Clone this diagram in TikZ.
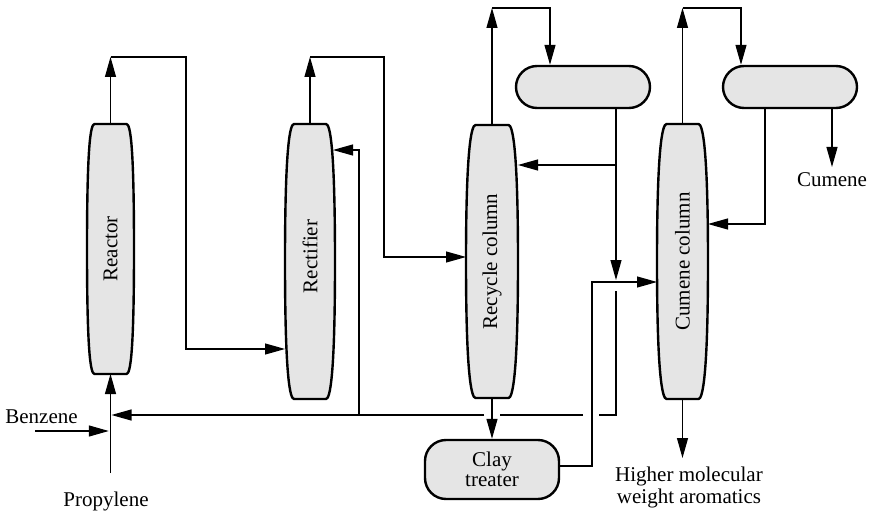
\documentclass[tikz,border=0pt]{standalone}
\usepackage{fontspec}
\setmainfont{Liberation Serif}
\usetikzlibrary{arrows.meta,calc}
\definecolor{vesselfill}{gray}{0.9}
\tikzset{
  flow/.style={line width=1.2pt, draw=black},
  tip/.style={-{Triangle[length=20pt,width=11pt]}},
  vesseloutline/.style={line width=2.4pt, draw=black, fill=vesselfill, line join=round},
  drum/.style={vesseloutline, rounded corners=21pt, minimum width=134pt,
    minimum height=42pt, inner sep=0pt, align=center},
  lbl/.style={inner sep=0pt, outer sep=0pt}
}
% Tower: name, centre x, top y, bottom y, half width at mid-height,
% half width at the heads, label
\newcommand\tower[7]{%
  \pgfmathsetmacro\tmid{(#3+#4)/2}%
  \path[vesseloutline] (#2-#6+3,#3) -- (#2+#6-3,#3)
    .. controls (#2+#6+1,#3) and (#2+#5,#3+22) .. (#2+#5,\tmid)
    .. controls (#2+#5,#4-22) and (#2+#6+1,#4) .. (#2+#6-3,#4)
    -- (#2-#6+3,#4)
    .. controls (#2-#6-1,#4) and (#2-#5,#4-22) .. (#2-#5,\tmid)
    .. controls (#2-#5,#3+22) and (#2-#6-1,#3) .. cycle;
  \node[lbl, minimum width={2*#5}, minimum height={#4-#3}] (#1) at (#2,\tmid) {\rotatebox{90}{#7}};
}
\begin{document}
\begin{tikzpicture}[x=1pt,y=-1pt,font=\fontsize{21}{20}\selectfont]
\useasboundingbox (0,0) rectangle (879,516);

% columns
\tower{reactor}{110.5}{124}{374}{23.5}{19}{Reactor}
\tower{rectifier}{310}{124}{399}{25}{19}{\hspace{10pt}Rectifier}
\tower{recycle}{492}{125}{398}{26}{19.5}{Recycle column}
\tower{cumene}{682.5}{124}{399}{25.5}{19}{Cumene column}

% drums and clay treater
\node[drum] (drumA) at (583,87) {};
\node[drum] (drumB) at (790,87) {};
\node[drum, minimum height=59pt] (clay) at (492,469.5) {Clay\\treater};

% reactor overhead to rectifier
\coordinate (reacTop) at (110.5,57);
\coordinate (reacBend) at (186,57);
\coordinate (rectFeed) at (186,349);
\draw[flow,tip] (reactor.north) -- (reacTop);
\draw[flow,tip] (reacTop) -- (reacBend) -- (rectFeed) -- (rectFeed -| rectifier.west);

% rectifier overhead to recycle column
\coordinate (rectTop) at (310,57);
\coordinate (rectBend) at (384,57);
\coordinate (recyFeed) at (384,257);
\draw[flow,tip] (rectifier.north) -- (rectTop);
\draw[flow,tip] (rectTop) -- (rectBend) -- (recyFeed) -- (recyFeed -| recycle.west);

% recycle column overhead to its drum
\coordinate (recyTop) at (492,8);
\coordinate (recyBend) at (550,8);
\draw[flow,tip] (recycle.north) -- (recyTop);
\draw[flow,tip] (recyTop) -- (recyBend) -- (recyBend |- drumA.north);

% recycle drum: reflux and benzene draw-off
\coordinate (aOut) at (616,108);
\coordinate (reflA) at (616,165);
\coordinate (aDrop) at (616,280);
\draw[flow,tip] (aOut) -- (aDrop);
\draw[flow,tip] (reflA) -- (reflA -| recycle.east);

% benzene recycle back to the reactor
\coordinate (bzDown) at (616,291);
\coordinate (bzCorner) at (616,415);
\coordinate (gapR) at (599,415);
\coordinate (gapRl) at (583,415);
\coordinate (gapL) at (500,415);
\coordinate (gapLl) at (484,415);
\coordinate (feedIn) at (111.5,415);
\draw[flow] (bzDown) -- (bzCorner) -- (gapR);
\draw[flow] (gapRl) -- (gapL);
\draw[flow,tip] (gapLl) -- (feedIn);

% side feed to the rectifier
\coordinate (rectSide) at (359,415);
\coordinate (rectSideTop) at (359,150);
\draw[flow,tip] (rectSide) -- (rectSideTop) -- ($(rectSideTop -| rectifier.east)+(-2,0)$);

% recycle column bottoms to clay treater
\draw[flow,tip] (recycle.south) -- (clay.north);

% clay treater to cumene column
\coordinate (clayRise) at (592,466);
\coordinate (clayTop) at (592,282);
\draw[flow,tip] (clay.east |- clayRise) -- (clayRise) -- (clayTop) -- (clayTop -| cumene.west);

% cumene column overhead to its drum
\coordinate (cumTop) at (682.5,8);
\coordinate (cumBend) at (741,8);
\draw[flow,tip] (cumene.north) -- (cumTop);
\draw[flow,tip] (cumTop) -- (cumBend) -- (cumBend |- drumB.north);

% cumene drum: reflux and product
\coordinate (reflB) at (765,224);
\draw[flow,tip] (drumB.south -| reflB) -- (reflB) -- (reflB -| cumene.east);
\coordinate (prod) at (832,167);
\draw[flow,tip] (drumB.south -| prod) -- (prod);
\node[lbl, anchor=base] (cumLbl) at (832,186.7) {Cumene};

% cumene column bottoms
\coordinate (heavy) at (682.5,458);
\draw[flow,tip] (cumene.south) -- (heavy);
\node[lbl, anchor=base] (heavyA) at (689,481.7) {Higher molecular};
\node[lbl, anchor=base] (heavyB) at (689,503) {weight aromatics};

% fresh feeds
\coordinate (propIn) at (110.5,473);
\draw[flow,tip] (propIn) -- (reactor.south);
\coordinate (bzStart) at (35,431);
\coordinate (bzEnd) at (108.8,431);
\draw[flow,tip] (bzStart) -- (bzEnd);
\node[lbl, anchor=base] (bzLbl) at (41.5,423) {Benzene};
\node[lbl, anchor=base] (prLbl) at (106,506) {Propylene};
\end{tikzpicture}
\end{document}
